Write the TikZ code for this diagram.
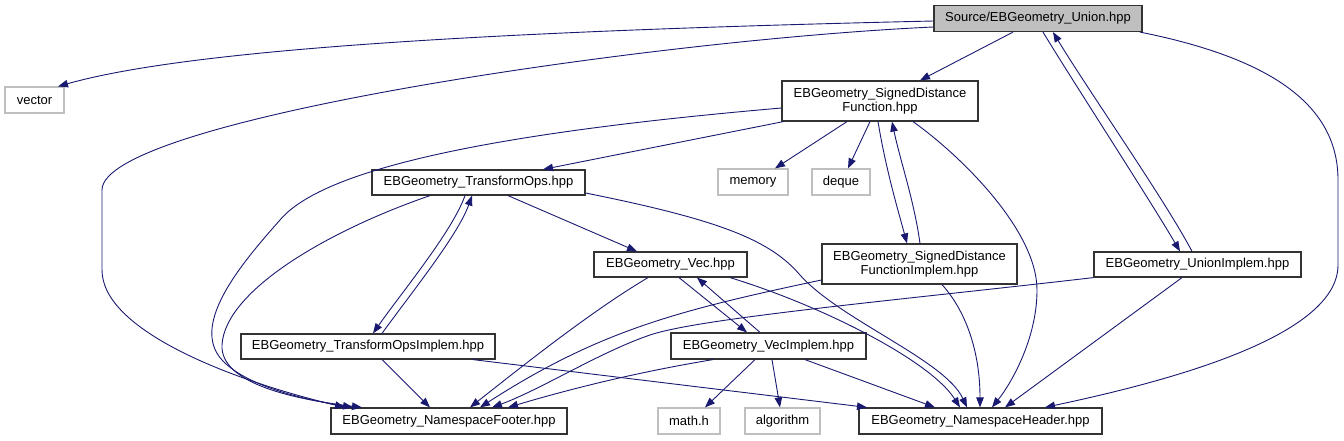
\documentclass[tikz,border=0pt]{standalone}
\usepackage{fontspec}
\setmainfont{Liberation Sans}
\usetikzlibrary{arrows.meta,calc}
\definecolor{edgeblue}{HTML}{191970}
\definecolor{extgray}{HTML}{BFBFBF}
\begin{document}
\begin{tikzpicture}[x=1pt,y=-1pt,
  box/.style={draw=black!80, line width=1.2pt, fill=white, inner sep=0pt,
    font=\fontsize{13}{14}\selectfont, align=center},
  ext/.style={box, draw=extgray},
  edge/.style={draw=edgeblue, line width=0.9pt, -{Triangle[length=10pt,width=7.5pt]}}]
\useasboundingbox (0,0) rectangle (1344,440);

% nodes
\node[box, fill=extgray, minimum width=208pt, minimum height=26pt] (U) at (1038,18.5) {Source/EBGeometry\_Union.hpp};
\node[ext, minimum width=59pt, minimum height=26pt] (vector) at (34.5,100) {vector};
\node[box, minimum width=196pt, minimum height=40pt] (SDF) at (880,101) {EBGeometry\_SignedDistance\\Function.hpp};
\node[ext, minimum width=70pt, minimum height=26pt] (memory) at (753,182) {memory};
\node[ext, minimum width=58pt, minimum height=26pt] (deque) at (841,182) {deque};
\node[box, minimum width=213pt, minimum height=25pt] (TO) at (478.5,182.5) {EBGeometry\_TransformOps.hpp};
\node[box, minimum width=153pt, minimum height=25pt] (Vec) at (670.5,264.5) {EBGeometry\_Vec.hpp};
\node[box, minimum width=195pt, minimum height=40pt] (SDFI) at (919.5,264) {EBGeometry\_SignedDistance\\FunctionImplem.hpp};
\node[box, minimum width=207pt, minimum height=25pt] (UI) at (1197.5,264.5) {EBGeometry\_UnionImplem.hpp};
\node[box, minimum width=254pt, minimum height=25pt] (TOI) at (368,346.5) {EBGeometry\_TransformOpsImplem.hpp};
\node[box, minimum width=195pt, minimum height=26pt] (VI) at (768.5,346) {EBGeometry\_VecImplem.hpp};
\node[box, minimum width=236pt, minimum height=26pt] (F) at (449,421) {EBGeometry\_NamespaceFooter.hpp};
\node[ext, minimum width=62pt, minimum height=26pt] (math) at (689,421) {math.h};
\node[ext, minimum width=75pt, minimum height=26pt] (alg) at (782.5,421) {algorithm};
\node[box, minimum width=243pt, minimum height=26pt] (H) at (980.5,421) {EBGeometry\_NamespaceHeader.hpp};

% edges from Union
\draw[edge] ([yshift=-2.5pt]U.west) .. controls (450,32) and (180,52) .. ([xshift=23.5pt]vector.north);
\draw[edge] ([yshift=-8.5pt]U.west) .. controls (650,40) and (102,120) .. (102,190) -- (102,270)
  .. controls (102,330) and (230,380) .. ([xshift=-104pt]F.north);
\draw[edge] ([xshift=-25pt]U.south) -- ([xshift=40pt]SDF.north);
\draw[edge] ([xshift=5pt]U.south) .. controls (1072,80) and (1150,200) .. ([xshift=-17.5pt]UI.north);
\draw[edge] ([xshift=-5.5pt]UI.north) .. controls (1165,200) and (1088,90) .. ([xshift=15pt]U.south);
\draw[edge] ([xshift=102pt]U.south) .. controls (1280,60) and (1338,110) .. (1338,180) -- (1338,265)
  .. controls (1338,340) and (1150,385) .. ([xshift=64.5pt]H.north);

% edges from SignedDistanceFunction
\draw[edge] ([yshift=-7pt]SDF.west) .. controls (550,128) and (330,160) .. (280,220)
  .. controls (240,265) and (190,325) .. (222,360)
  .. controls (250,390) and (320,402) .. ([xshift=-96pt]F.north);
\draw[edge] ([xshift=2pt]SDF.south west) -- ([xshift=64.5pt]TO.north);
\draw[edge] ([xshift=-33pt]SDF.south) -- ([xshift=22pt]memory.north);
\draw[edge] ([xshift=-10pt]SDF.south) -- ([xshift=7pt]deque.north);
\draw[edge] ([xshift=-2pt]SDF.south) .. controls (886,170) and (898,210) .. ([xshift=-12.5pt]SDFI.north);
\draw[edge] ([xshift=0.5pt]SDFI.north) .. controls (914,200) and (900,160) .. ([xshift=12pt]SDF.south);
\draw[edge] ([xshift=33pt]SDF.south) .. controls (960,155) and (1037,230) .. (1037,290)
  .. controls (1037,340) and (1010,385) .. ([xshift=11.5pt]H.north);

% edges from TransformOps
\draw[edge] ([xshift=-48.5pt]TO.south) .. controls (330,230) and (225,290) .. (222,345)
  .. controls (220,385) and (300,400) .. ([xshift=-87pt]F.north);
\draw[edge] ([xshift=29.5pt]TO.south) -- ([xshift=-33.5pt]Vec.north);
\draw[edge] ([xshift=-13.5pt]TO.south) .. controls (452,232) and (402,292) .. ([xshift=5pt]TOI.north);
\draw[edge] ([xshift=14pt]TOI.north) .. controls (412,292) and (458,235) .. ([xshift=-6.5pt]TO.south);
\draw[edge] ([yshift=-10.5pt]TO.east) .. controls (720,220) and (770,240) .. (800,275)
  .. controls (840,320) and (945,360) .. ([xshift=-13.5pt]H.north);

% edges from Vec
\draw[edge] ([xshift=-22.5pt]Vec.south) .. controls (590,312) and (520,368) .. ([xshift=21pt]F.north);
\draw[edge] ([xshift=8.5pt]Vec.south) -- ([xshift=-21.5pt]VI.north);
\draw[edge] ([xshift=-8.5pt]VI.north) -- ([xshift=26.5pt]Vec.south);
\draw[edge] ([xshift=59.5pt]Vec.south) .. controls (820,305) and (930,360) .. ([xshift=-20.5pt]H.north);

% edges from SignedDistanceFunctionImplem
\draw[edge] ([yshift=-16pt]SDFI.west) .. controls (680,310) and (600,330) .. ([xshift=31pt]F.north);
\draw[edge] ([xshift=22.5pt]SDFI.south) .. controls (965,310) and (980,350) .. ([xshift=-0.5pt]H.north);

% edges from UnionImplem
\draw[edge] (UI.south west) .. controls (900,300) and (700,318) .. (650,335)
  .. controls (600,352) and (540,390) .. ([xshift=43pt]F.north);
\draw[edge] ([xshift=-15.5pt]UI.south) -- ([xshift=24.5pt]H.north);

% edges from TransformOpsImplem
\draw[edge] ([xshift=14pt]TOI.south) -- ([xshift=-19pt]F.north);
\draw[edge] ([xshift=105pt]TOI.south) -- ([xshift=-113.5pt]H.north);

% edges from VecImplem
\draw[edge] ([xshift=-55.5pt]VI.south) .. controls (620,375) and (550,395) .. ([xshift=59pt]F.north);
\draw[edge] ([xshift=-13.5pt]VI.south) -- ([xshift=16pt]math.north);
\draw[edge] ([xshift=3.5pt]VI.south) -- ([xshift=-2.5pt]alg.north);
\draw[edge] ([xshift=36.5pt]VI.south) -- ([xshift=-45.5pt]H.north);
\end{tikzpicture}
\end{document}
